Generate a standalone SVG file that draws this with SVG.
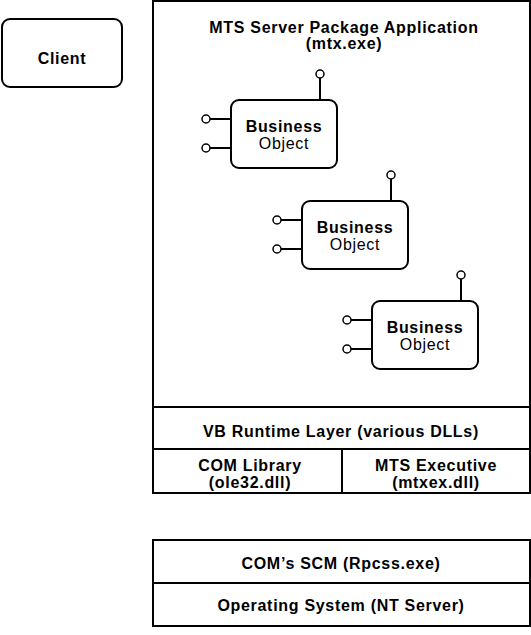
<svg xmlns="http://www.w3.org/2000/svg" width="531" height="635" viewBox="0 0 531 635">
<style>
.b{fill:#fff;stroke:#000;stroke-width:2}
.l{fill:none;stroke:#000;stroke-width:2}
.c{fill:#fff;stroke:#000;stroke-width:1.5}
text{font-family:"Liberation Sans",Arial,sans-serif;font-size:16px;letter-spacing:0.7px;text-anchor:middle;fill:#000}
.t{font-weight:bold}
.o{font-size:16px}
</style>
<defs>
<g id="bo">
<line class="l" x1="89" y1="-22" x2="89" y2="0"/>
<circle class="c" cx="89" cy="-26" r="4"/>
<line class="l" x1="-21" y1="19" x2="0" y2="19"/>
<line class="l" x1="-21" y1="48" x2="0" y2="48"/>
<circle class="c" cx="-25" cy="19" r="4"/>
<circle class="c" cx="-25" cy="48" r="4"/>
<rect class="b" x="0" y="0" width="106" height="68" rx="8"/>
<text class="t" x="53" y="32">Business</text>
<text class="o" x="53" y="49">Object</text>
</g>
</defs>
<g id="client">
<rect class="b" x="2" y="19" width="120" height="68" rx="8"/>
<text class="t" x="62" y="64">Client</text>
</g>
<g id="mts">
<rect class="b" x="153" y="1" width="377" height="492"/>
<text class="t" x="344" y="33">MTS Server Package Application</text>
<text class="t" x="344" y="49">(mtx.exe)</text>
</g>
<g id="bo1"><use href="#bo" x="231" y="100"/></g>
<g id="bo2"><use href="#bo" x="302" y="201"/></g>
<g id="bo3"><use href="#bo" x="372" y="301"/></g>
<g id="vb">
<line class="l" x1="153" y1="407" x2="530" y2="407"/>
<text class="t" x="341" y="437">VB Runtime Layer (various DLLs)</text>
</g>
<g id="comlib">
<line class="l" x1="153" y1="449" x2="530" y2="449"/>
<line class="l" x1="342" y1="449" x2="342" y2="493"/>
<text class="t" x="250" y="471">COM Library</text>
<text class="t" x="250" y="488">(ole32.dll)</text>
</g>
<g id="mtsexec">
<text class="t" x="436" y="471">MTS Executive</text>
<text class="t" x="436" y="488">(mtxex.dll)</text>
</g>
<g id="scm">
<rect class="b" x="153" y="540" width="377" height="86"/>
<line class="l" x1="153" y1="583" x2="530" y2="583"/>
<text class="t" x="341" y="569">COM’s SCM (Rpcss.exe)</text>
</g>
<g id="os">
<text class="t" x="341" y="611">Operating System (NT Server)</text>
</g>
<g id="connectors"/>
</svg>
